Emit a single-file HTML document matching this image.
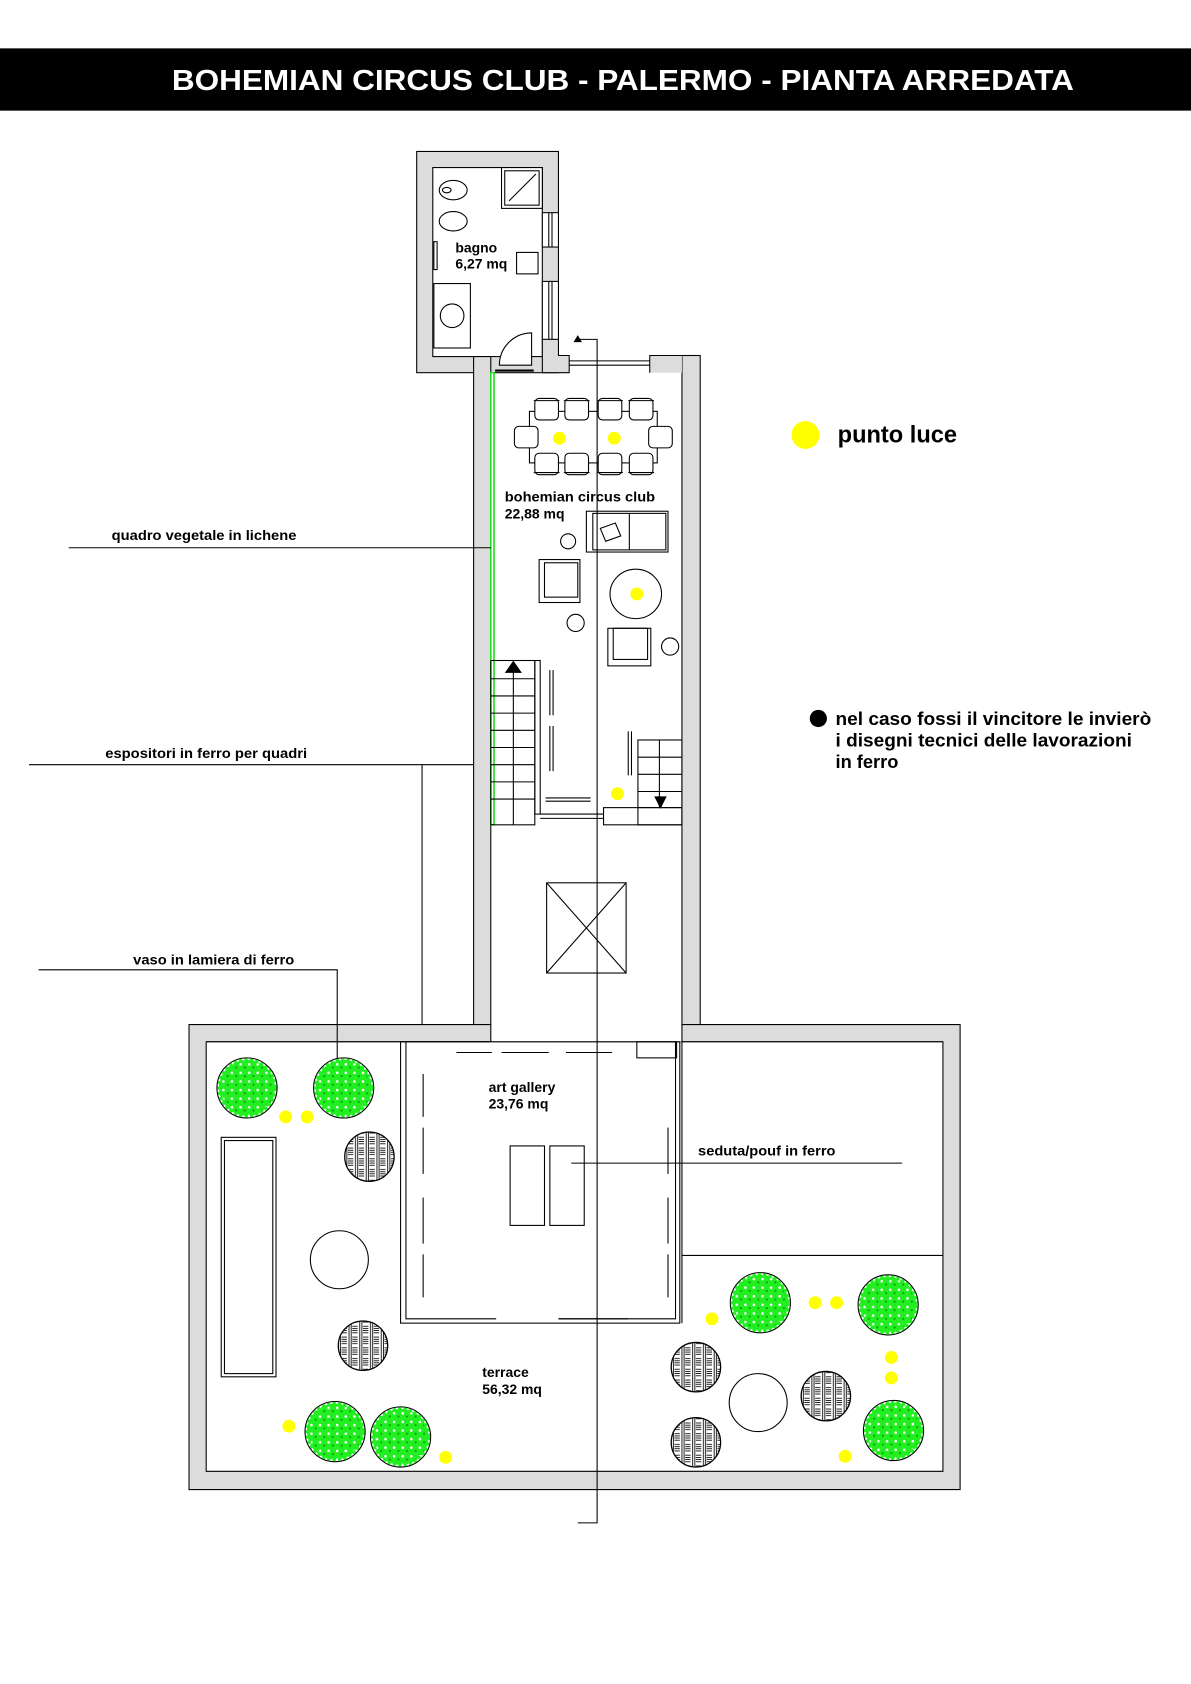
<!DOCTYPE html>
<html><head><meta charset="utf-8"><style>
html,body{margin:0;padding:0;background:#fff}
svg{display:block}
text{font-family:"Liberation Sans",Arial,sans-serif;font-weight:bold;fill:#000}
</style></head><body>
<svg width="1191" height="1684" viewBox="0 0 1109 1568" xmlns="http://www.w3.org/2000/svg">
<defs>
<pattern id="leaf" width="8" height="8" patternUnits="userSpaceOnUse">
<rect width="8" height="8" fill="#22ee22"/><circle cx="2" cy="2" r="1.2" fill="#fff"/><circle cx="6" cy="5" r="1" fill="#0a0"/>
</pattern>
<pattern id="weave" width="10" height="10" patternUnits="userSpaceOnUse">
<rect width="10" height="10" fill="#fff"/><path d="M0 2H5M0 4H5M0 6H5M0 8H5M7 0V10M9 0V10" stroke="#000" stroke-width="0.8"/>
</pattern>
<g id="shrub"><circle r="28" fill="#fff" stroke="#000" stroke-width="1"/><circle r="26" fill="url(#leaf)" stroke="#22ee22" stroke-width="3" stroke-dasharray="3 2"/></g>
<g id="weavec"><circle r="23" fill="url(#weave)" stroke="#000" stroke-width="1.2"/></g>
<g id="chair"><rect x="-11" y="-10" width="22" height="20" rx="4" fill="#fff" stroke="#000"/><line x1="-12" y1="-8" x2="12" y2="-8" stroke="#000"/></g>
</defs>
<rect width="1109" height="1568" fill="#fff"/>
<!-- title -->
<rect x="0" y="45" width="1109" height="58" fill="#000"/>
<text x="160" y="84" font-size="27" textLength="840" lengthAdjust="spacingAndGlyphs" style="fill:#fff">BOHEMIAN CIRCUS CLUB  - PALERMO - PIANTA ARREDATA</text>

<g stroke="#000" stroke-width="1">
<!-- bagno -->
<rect x="388" y="141" width="132" height="206" fill="#dcdcdc"/>
<rect x="403" y="156" width="102" height="176" fill="#fff"/>
<rect x="505" y="198" width="15" height="32" fill="#fff"/>
<rect x="505" y="262" width="15" height="54" fill="#fff"/>
<line x1="511" y1="198" x2="511" y2="230"/><line x1="514" y1="198" x2="514" y2="230"/>
<line x1="511" y1="262" x2="511" y2="316"/><line x1="514" y1="262" x2="514" y2="316"/>
<rect x="467" y="156" width="38" height="38" fill="#fff"/><rect x="470" y="159" width="32" height="32" fill="none"/>
<line x1="474" y1="187" x2="499" y2="162"/>
<ellipse cx="422" cy="177" rx="13" ry="9" fill="#fff"/><ellipse cx="416" cy="177" rx="4" ry="2.5" fill="none"/>
<ellipse cx="422" cy="206" rx="13" ry="9" fill="#fff"/>
<rect x="404" y="225" width="3" height="26" fill="none"/>
<rect x="404" y="264" width="34" height="60" fill="#fff"/><circle cx="421" cy="294" r="11" fill="none"/>
<rect x="481" y="235" width="20" height="20" fill="#fff"/>
<path d="M465 340 A30 30 0 0 1 495 310 L495 340 Z" fill="#fff"/>
<line x1="461" y1="345" x2="497" y2="345" stroke-width="2"/>
<!-- corridor walls -->
<rect x="441" y="332" width="16" height="622" fill="#dcdcdc"/>
<rect x="635" y="331" width="17" height="623" fill="#dcdcdc"/>
<path d="M505 316 H520 V331 H530 V347 H505 Z" fill="#dcdcdc"/>
<rect x="605" y="331" width="30" height="16" fill="#dcdcdc" stroke="none"/>
<path d="M605 347 V331 H635" fill="none"/>
<line x1="530" y1="336" x2="605" y2="336"/><line x1="530" y1="340" x2="605" y2="340"/>
<!-- terrace -->
<path fill-rule="evenodd" fill="#dcdcdc" d="M176 954 H894 V1387 H176 Z M192 970 H878 V1370 H192 Z"/>
<rect x="457.5" y="953" width="177" height="17" fill="#fff" stroke="none"/>
<line x1="457" y1="954" x2="457" y2="970"/><line x1="635" y1="954" x2="635" y2="970"/>
<line x1="192" y1="970" x2="457" y2="970"/><line x1="635" y1="970" x2="878" y2="970"/>
</g>
<g stroke="#000" stroke-width="1" fill="none">
<!-- green vegetal -->
<rect x="457" y="347" width="3" height="421" stroke="#22dd22" stroke-width="1.5"/>
<!-- dining -->
<rect x="493" y="383" width="119" height="48"/>
<use href="#chair" x="509" y="381"/><use href="#chair" x="537" y="381"/><use href="#chair" x="568" y="381"/><use href="#chair" x="597" y="381"/>
<g transform="translate(0,813) scale(1,-1)"><use href="#chair" x="509" y="381"/><use href="#chair" x="537" y="381"/><use href="#chair" x="568" y="381"/><use href="#chair" x="597" y="381"/></g>
<rect x="479" y="397" width="22" height="20" rx="4" fill="#fff"/><rect x="604" y="397" width="22" height="20" rx="4" fill="#fff"/>
<!-- sofa -->
<rect x="546" y="476" width="76" height="38"/><rect x="552" y="478" width="68" height="34"/><line x1="586" y1="478" x2="586" y2="512"/>
<path d="M559 492 L573 487 L578 499 L564 504 Z"/>
<circle cx="529" cy="504" r="7"/>
<rect x="502" y="521" width="38" height="40"/><rect x="507" y="524" width="31" height="32"/>
<ellipse cx="592" cy="553" rx="24" ry="23"/>
<circle cx="536" cy="580" r="8"/>
<rect x="566" y="585" width="40" height="35"/><rect x="571" y="585" width="32" height="29"/>
<circle cx="624" cy="602" r="8"/>
<!-- stairs left -->
<rect x="457" y="615" width="41" height="153"/><rect x="498" y="615" width="5" height="143"/>
<path d="M457 632H498M457 648H498M457 664H498M457 680H498M457 696H498M457 712H498M457 728H498M457 744H498M478 625V768"/>
<path d="M471 626 L478 616 L485 626 Z" fill="#000"/>
<path d="M503 758 H562 M503 762 H562"/>
<path d="M512 624 V666 M515 624 V666 M512 676 V718 M515 676 V718 M585 681 V722 M588 681 V722 M508 743 H550 M508 746 H550"/>
<!-- stairs right -->
<rect x="594" y="689" width="41" height="79"/><path d="M594 705H635M594 721H635M594 737H635M594 752H635M614 689V752"/>
<rect x="562" y="752" width="73" height="16"/>
<path d="M610 742 L615 752 L620 742 Z" fill="#000"/>
<!-- void -->
<rect x="509" y="822" width="74" height="84"/><path d="M509 822 L583 906 M583 822 L509 906"/>
<!-- section line -->
<path d="M538 316 H556 V1418 H538"/>
<path d="M535 318 L538 313 L541 318 Z" fill="#000"/>
<!-- gallery -->
<rect x="373" y="970" width="260" height="262"/>
<path d="M378 970 V1228 H427 M520 1228 H629 V970"/>
<path d="M427 1228 H462 M520 1228 H585"/>
<line x1="635" y1="970" x2="635" y2="1232"/>
<line x1="635" y1="1169" x2="878" y2="1169"/>
<rect x="593" y="970" width="37" height="15"/>
<path d="M425 980 H458 M467 980 H511 M527 980 H570"/>
<path d="M394 1000 V1040 M394 1050 V1093 M394 1115 V1158 M394 1168 V1208 M622 1050 V1093 M622 1115 V1158 M622 1168 V1208"/>
<rect x="475" y="1067" width="32" height="74"/><rect x="512" y="1067" width="32" height="74"/>
<!-- bench -->
<rect x="206" y="1059" width="51" height="223"/><rect x="209" y="1062" width="45" height="217"/>
<ellipse cx="316" cy="1173" rx="27" ry="27"/>
<ellipse cx="706" cy="1306" rx="27" ry="27"/>
<!-- leaders -->
<path d="M64 510 H457 M27 712 H441 M393 712 V954 M36 903 H314 V990 M532 1083 H840"/>
</g>
<!-- shrubs -->
<use href="#shrub" x="230" y="1013"/><use href="#shrub" x="320" y="1013"/>
<use href="#shrub" x="312" y="1333"/><use href="#shrub" x="373" y="1338"/>
<use href="#shrub" x="708" y="1213"/><use href="#shrub" x="827" y="1215"/><use href="#shrub" x="832" y="1332"/>
<use href="#weavec" x="344" y="1077"/><use href="#weavec" x="338" y="1253"/>
<use href="#weavec" x="648" y="1273"/><use href="#weavec" x="648" y="1343"/><use href="#weavec" x="769" y="1300"/>
<!-- lights -->
<g fill="#ffff00">
<circle cx="521" cy="408" r="6"/><circle cx="572" cy="408" r="6"/><circle cx="593" cy="553" r="6"/><circle cx="575" cy="739" r="6"/>
<circle cx="266" cy="1040" r="6"/><circle cx="286" cy="1040" r="6"/><circle cx="269" cy="1328" r="6"/><circle cx="415" cy="1357" r="6"/>
<circle cx="663" cy="1228" r="6"/><circle cx="759" cy="1213" r="6"/><circle cx="779" cy="1213" r="6"/>
<circle cx="830" cy="1264" r="6"/><circle cx="830" cy="1283" r="6"/><circle cx="787" cy="1356" r="6"/>
<circle cx="750" cy="405" r="13"/>
</g>
<circle cx="762" cy="669" r="8" fill="#000"/>
<!-- labels -->
<text x="780" y="412" font-size="22">punto luce</text>
<text x="778" y="675" font-size="17" textLength="294" lengthAdjust="spacingAndGlyphs">nel caso fossi il vincitore le invierò</text>
<text x="778" y="695" font-size="17" textLength="276" lengthAdjust="spacingAndGlyphs">i disegni tecnici delle lavorazioni</text>
<text x="778" y="715" font-size="17">in ferro</text>
<g font-size="13">
<text x="424" y="235">bagno</text><text x="424" y="250">6,27 mq</text>
<text x="470" y="467" textLength="140" lengthAdjust="spacingAndGlyphs">bohemian circus club</text><text x="470" y="483">22,88 mq</text>
<text x="104" y="503" textLength="172" lengthAdjust="spacingAndGlyphs">quadro vegetale in lichene</text>
<text x="98" y="706" textLength="188" lengthAdjust="spacingAndGlyphs">espositori in ferro per quadri</text>
<text x="124" y="898" textLength="150" lengthAdjust="spacingAndGlyphs">vaso in lamiera di ferro</text>
<text x="455" y="1017">art gallery</text><text x="455" y="1032">23,76 mq</text>
<text x="650" y="1076" textLength="128" lengthAdjust="spacingAndGlyphs">seduta/pouf in ferro</text>
<text x="449" y="1282">terrace</text><text x="449" y="1298">56,32 mq</text>
</g>
</svg>
</body></html>
